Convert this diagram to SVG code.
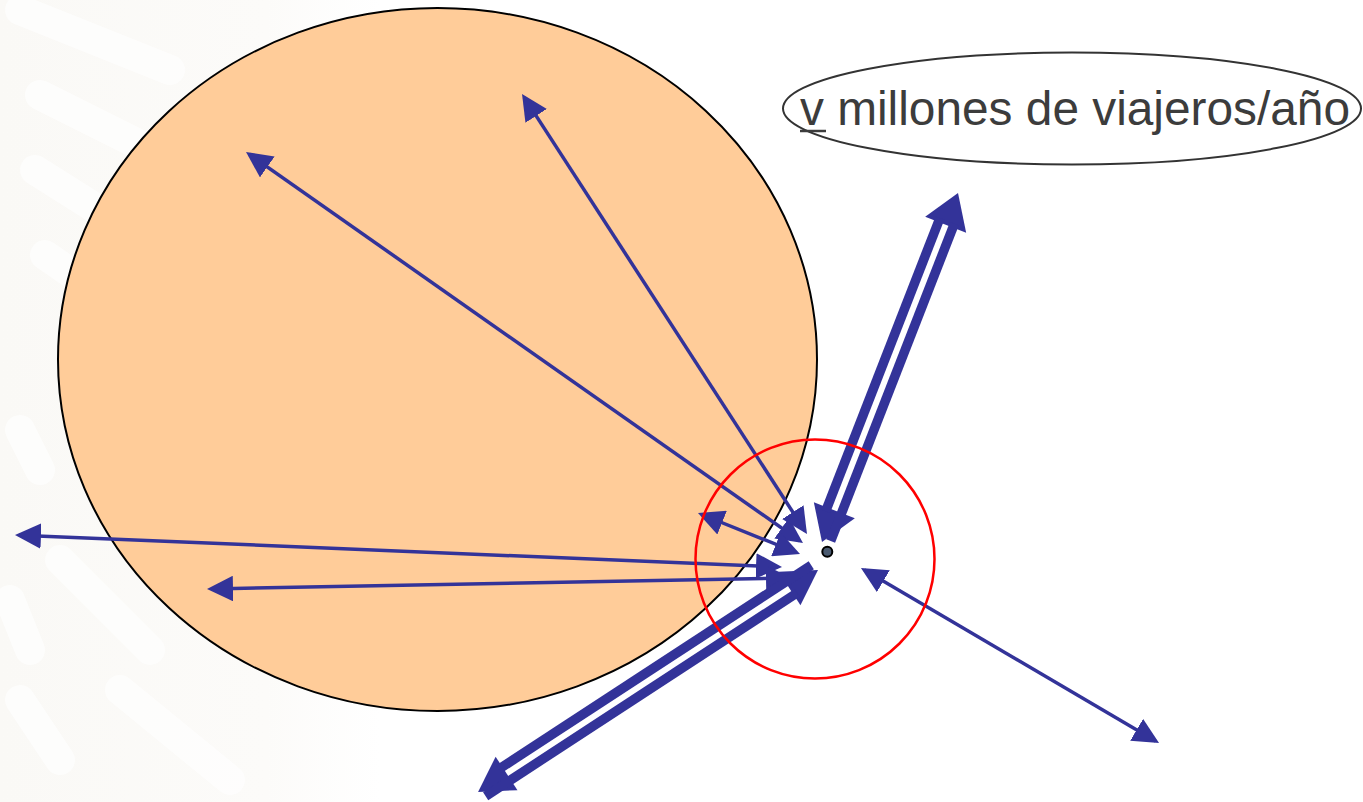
<svg xmlns="http://www.w3.org/2000/svg" width="1363" height="802" viewBox="0 0 1363 802">
  <defs>
    <linearGradient id="bgfade" x1="0" y1="0" x2="1" y2="0">
      <stop offset="0" stop-color="#FAF9F6"/>
      <stop offset="0.7" stop-color="#FCFBF9"/>
      <stop offset="1" stop-color="#FFFFFF"/>
    </linearGradient>
    <marker id="head" viewBox="0 0 26 25.5" refX="22" refY="12.75" markerWidth="26" markerHeight="25.5" markerUnits="userSpaceOnUse" orient="auto-start-reverse">
      <path d="M0,0 L26,12.75 L0,25.5 z" fill="#333399"/>
    </marker>
    <style>
      .thin { stroke: #333399; stroke-width: 3.5; fill: none; marker-start: url(#head); marker-end: url(#head); }
      .thick { fill: #333399; }
      .label { font-family: "Liberation Sans", Arial, sans-serif; font-size: 48px; fill: #3C3C3C; }
    </style>
  </defs>

  <rect x="0" y="0" width="1363" height="802" fill="#FFFFFF"/>
  <g id="background">
    <rect x="0" y="0" width="380" height="802" fill="url(#bgfade)"/>
    <g stroke="#FFFFFF" stroke-width="30" stroke-linecap="round" fill="none" opacity="0.7">
      <path d="M20,10 L170,70"/>
      <path d="M40,95 L230,190"/>
      <path d="M35,170 L130,230"/>
      <path d="M45,255 L110,300"/>
      <path d="M20,430 L40,470"/>
      <path d="M60,560 L150,650"/>
      <path d="M10,600 L30,650"/>
      <path d="M120,690 L230,780"/>
      <path d="M20,700 L60,760"/>
    </g>
  </g>

  <g id="region">
    <ellipse cx="437.5" cy="359.5" rx="379.5" ry="351.5" fill="#FFCC99" stroke="#000000" stroke-width="2"/>
  </g>

  <g id="label">
    <ellipse cx="1072" cy="108.5" rx="289" ry="56" fill="none" stroke="#333333" stroke-width="2"/>
    <text class="label" x="800" y="125" textLength="550" lengthAdjust="spacingAndGlyphs">v millones de viajeros/año</text>
    <line x1="800" y1="131" x2="826" y2="131" stroke="#3C3C3C" stroke-width="2.5"/>
  </g>

  <g id="connectors">
    <line class="thin" x1="249.3" y1="154.3" x2="799.7" y2="540.7"/>
    <line class="thin" x1="524.2" y1="97.4" x2="804.8" y2="530.6"/>
    <line class="thin" x1="19" y1="535.2" x2="778" y2="566.8"/>
    <line class="thin" x1="211" y1="588.9" x2="788" y2="578.1"/>
    <line class="thin" x1="701.7" y1="514.5" x2="796.3" y2="552.5"/>
    <line class="thin" x1="864.4" y1="570" x2="1155.6" y2="741"/>

    <g id="flow-up" class="thick" transform="translate(822,542) rotate(-68.71)">
      <polygon points="0,0 34,-22 34,22"/>
      <polygon points="374.6,0 340.6,-22 340.6,22"/>
      <rect x="30" y="-12.5" width="314.6" height="9.5"/>
      <rect x="4" y="3" width="340.6" height="9.5"/>
    </g>
    <g id="flow-down" class="thick" transform="translate(818,570) rotate(146.85)">
      <polygon points="0,0 34,-20 34,20"/>
      <polygon points="406,0 372,-20 372,20"/>
      <rect x="30" y="-12.5" width="372" height="9.5"/>
      <rect x="3" y="3" width="373" height="9.5"/>
    </g>
  </g>

  <g id="influence">
    <circle cx="815" cy="559" r="119.5" fill="none" stroke="#FF0000" stroke-width="2.5"/>
  </g>

  <g id="station">
    <circle cx="827.3" cy="551.7" r="5" fill="#4A5A70" stroke="#000000" stroke-width="2"/>
  </g>
</svg>
